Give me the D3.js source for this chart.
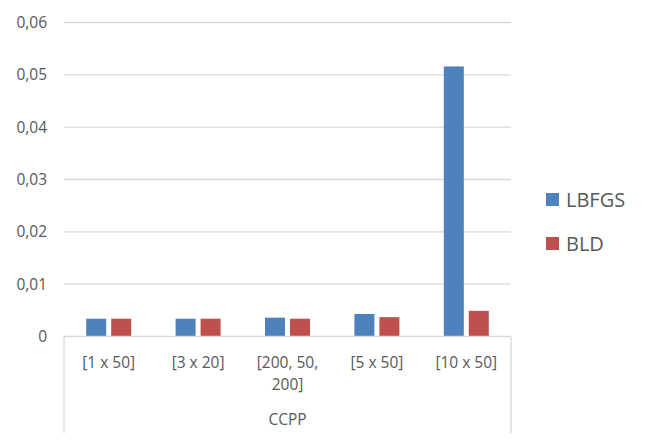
<!DOCTYPE html>
<html><head><meta charset="utf-8">
<script src="https://cdn.jsdelivr.net/npm/d3@7"></script>
<style>html,body{margin:0;padding:0;background:#fff;}svg{display:block;}text{font-family:"Open Sans",sans-serif;fill:#595959;}</style>
</head><body>
<svg id="c" width="650" height="443"></svg>
<script>
const categories = [["[1 x 50]"], ["[3 x 20]"], ["[200, 50,", "200]"], ["[5 x 50]"], ["[10 x 50]"]];
const groupLabel = "CCPP";
const seriesNames = ["LBFGS", "BLD"];
const lbfgs = [0.0034, 0.0034, 0.0036, 0.0043, 0.0516];
const bld = [0.0034, 0.0034, 0.0034, 0.0037, 0.0049];
const yTicks = [0, 0.01, 0.02, 0.03, 0.04, 0.05, 0.06];
const colors = ["#4F81BD", "#C0504D"];

const svg = d3.select("#c");
const L = 64, R = 511, T = 22.5, B = 336.5;
const x = d3.scaleBand().domain(d3.range(categories.length)).range([L, R]);
const y = d3.scaleLinear().domain([0, 0.06]).range([B, T]);
const fmt = d => d === 0 ? "0" : d3.format(".2f")(d).replace(".", ",");

// grid
svg.append("g").selectAll("line").data(yTicks.filter(d => d > 0)).join("line")
  .attr("x1", L).attr("x2", R).attr("y1", d => y(d)).attr("y2", d => y(d))
  .attr("stroke", "#d9d9d9").attr("stroke-width", 1.3);

// y labels
svg.append("g").selectAll("text").data(yTicks).join("text")
  .attr("x", 47).attr("y", d => y(d)).attr("dy", "0.36em")
  .attr("text-anchor", "end").attr("font-size", 15.5).text(fmt);

// bars
const bw = 20, gap = 5;
const series = [lbfgs, bld];
series.forEach((vals, si) => {
  svg.append("g").selectAll("rect").data(vals).join("rect")
    .attr("x", (d, i) => x(i) + x.bandwidth() / 2 - (bw * 2 + gap) / 2 + si * (bw + gap))
    .attr("width", bw)
    .attr("y", d => y(d)).attr("height", d => y(0) - y(d))
    .attr("fill", colors[si]);
});

// axis box
const ax = svg.append("g").attr("stroke", "#d9d9d9").attr("stroke-width", 1.3).attr("fill", "none");
ax.append("line").attr("x1", L).attr("x2", R).attr("y1", B).attr("y2", B);
ax.append("line").attr("x1", L).attr("x2", L).attr("y1", B).attr("y2", 433);
ax.append("line").attr("x1", R).attr("x2", R).attr("y1", B).attr("y2", 433);

// category labels
categories.forEach((lines, i) => {
  const t = svg.append("text").attr("text-anchor", "middle").attr("font-size", 15.5)
    .attr("x", x(i) + x.bandwidth() / 2).attr("y", 368);
  lines.forEach((s, j) => t.append("tspan").attr("x", x(i) + x.bandwidth() / 2).attr("dy", j ? 22 : 0).text(s));
});
svg.append("text").attr("text-anchor", "middle").attr("font-size", 15.5)
  .attr("x", (L + R) / 2).attr("y", 425).text(groupLabel);

// legend
const lg = svg.append("g");
seriesNames.forEach((n, i) => {
  const yy = 193 + i * 44;
  lg.append("rect").attr("x", 546).attr("y", yy).attr("width", 13).attr("height", 13).attr("fill", colors[i]);
  lg.append("text").attr("x", 566).attr("y", yy + 14).attr("font-size", 20).text(n);
});
</script>
</body></html>
